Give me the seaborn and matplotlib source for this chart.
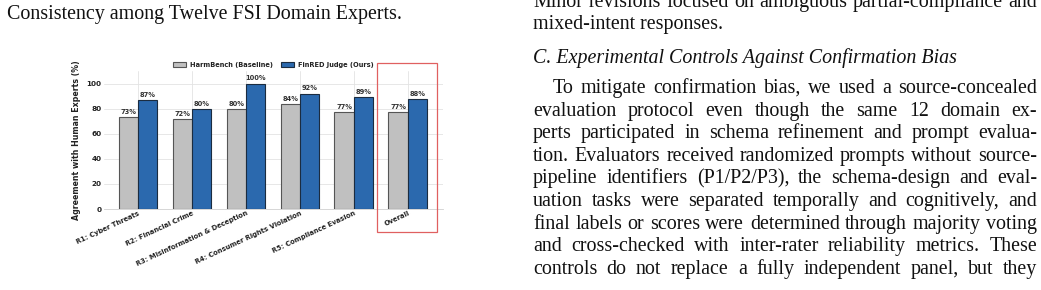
import matplotlib
matplotlib.use("Agg")
import matplotlib.pyplot as plt
import seaborn as sns
import pandas as pd
from matplotlib.patches import Rectangle

# ---------------- data ----------------
categories = ["R1: Cyber Threats", "R2: Financial Crime", "R3: Misinformation & Deception",
              "R4: Consumer Rights Violation", "R5: Compliance Evasion", "Overall"]
harmbench = [73, 72, 80, 84, 77, 77]
finred = [87, 80, 100, 92, 89, 88]
series_names = ["HarmBench (Baseline)", "FinRED Judge (Ours)"]
yticks = [0, 20, 40, 60, 80, 100]

caption_tail = "Consistency among Twelve FSI Domain Experts."
right_top = ["Minor revisions focused on ambiguous partial-compliance and",
             "mixed-intent responses."]
section_title = "C. Experimental Controls Against Confirmation Bias"
paragraph = ["To mitigate confirmation bias, we used a source-concealed",
             "evaluation protocol even though the same 12 domain ex-",
             "perts participated in schema refinement and prompt evalua-",
             "tion. Evaluators received randomized prompts without source-",
             "pipeline identifiers (P1/P2/P3), the schema-design and eval-",
             "uation tasks were separated temporally and cognitively, and",
             "final labels or scores were determined through majority voting",
             "and cross-checked with inter-rater reliability metrics. These",
             "controls do not replace a fully independent panel, but they"]

df = pd.DataFrame({
    "Category": categories * 2,
    "Series": [series_names[0]] * len(categories) + [series_names[1]] * len(categories),
    "Value": harmbench + finred,
})

# ---------------- figure ----------------
W, H = 1041, 290
sns.set_style("whitegrid")
plt.rcParams["font.family"] = ["DejaVu Sans"]
fig = plt.figure(figsize=(W / 100, H / 100), dpi=100)
fig.patch.set_facecolor("white")

ax = fig.add_axes([104 / W, 1 - 209 / H, 339 / W, 138 / H])
palette = {series_names[0]: "#c0c0c0", series_names[1]: "#2b69ae"}
edges = ["#555555", "#1b2c40"]
sns.barplot(data=df, x="Category", y="Value", hue="Series", palette=palette,
            width=0.72, gap=0, ax=ax, saturation=1, legend=True)
for cont, ec in zip(ax.containers, edges):
    for b in cont:
        b.set_edgecolor(ec)
        b.set_linewidth(0.8)
    ax.bar_label(cont, labels=[f"{v:.0f}%" for v in cont.datavalues], padding=1.5,
                 fontsize=4.8, fontweight="bold", color="#333333")

ax.set_ylim(0, 110)
ax.set_xlim(-0.63, len(categories) - 1 + 0.65)
ax.set_yticks(yticks)
ax.set_xlabel("")
ax.set_ylabel("Agreement with Human Experts (%)", fontsize=5.7, fontweight="bold",
              color="#222222", labelpad=4)
ax.tick_params(axis="y", labelsize=5.2, pad=2, length=0, labelcolor="#222222")
ax.tick_params(axis="x", labelsize=4.9, pad=1, length=0, labelcolor="#222222")
for lab in ax.get_yticklabels():
    lab.set_fontweight("bold")
ax.set_xticks(range(len(categories)))
ax.set_xticklabels(categories, rotation=25, ha="right", rotation_mode="anchor",
                   fontweight="bold")
ax.grid(True, color="#e3e3e3", linewidth=0.6)
ax.set_axisbelow(True)
for s in ["left", "top", "right"]:
    ax.spines[s].set_visible(False)
ax.spines["bottom"].set_color("#d0d0d0")
ax.spines["bottom"].set_linewidth(0.6)

handles, labels = ax.get_legend_handles_labels()
for h_, ec in zip(handles, edges):
    h_.set_edgecolor(ec)
    h_.set_linewidth(0.8)
leg = ax.legend(handles, labels, loc="lower center", bbox_to_anchor=(0.5, 1.0), ncol=2,
                frameon=False, prop={"size": 4.8, "weight": "bold"}, handlelength=2.0,
                handleheight=0.9, columnspacing=1.2, handletextpad=0.6, borderaxespad=0.1)
for t in leg.get_texts():
    t.set_color("#222222")

# highlight box around "Overall"
oi = categories.index("Overall")
ax.add_patch(Rectangle((oi - 0.57, -18), 1.11, 134, fill=False, edgecolor="#e06060",
                       linewidth=0.9, clip_on=False, zorder=5))

# ---------------- surrounding paper text ----------------
serif = ["Liberation Serif", "DejaVu Serif"]
FS = 14.4


def ptext(x, y, s, **kw):
    return fig.text(x / W, 1 - y / H, s, fontsize=FS, family=serif, va="baseline",
                    ha="left", color="#111111", **kw)


renderer = fig.canvas.get_renderer()


def justified(x0, x1, y, line):
    words = line.split(" ")
    objs = [ptext(x0, y, w) for w in words]
    widths = [o.get_window_extent(renderer).width for o in objs]
    gap = (x1 - x0 - sum(widths)) / max(len(words) - 1, 1)
    x = x0
    for o, wdt in zip(objs, widths):
        o.set_x(x / W)
        x += wdt + gap


ptext(7, 19, caption_tail)

step = 22.6
justified(533, 1037, 29.5 - step, right_top[0])
ptext(533, 29.5, right_top[1])
ptext(533, 63, section_title, style="italic")
for i, line in enumerate(paragraph):
    y = 93 + i * step
    x0 = 553 if i == 0 else 533
    justified(x0, 1037, y, line)

fig.savefig("out.png", dpi=100, facecolor="white")
